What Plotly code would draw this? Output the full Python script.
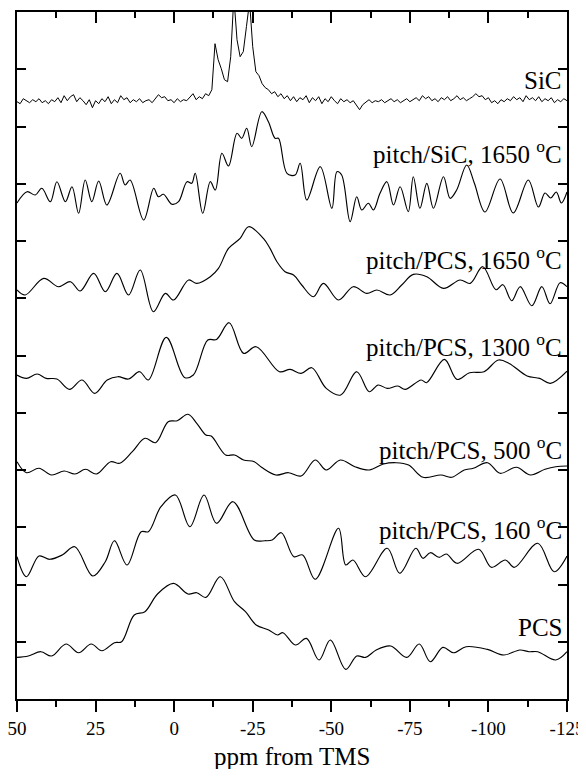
import plotly.graph_objects as go

# ---------------- axis / tick data ----------------
X_LEFT, X_RIGHT = 50, -125
Y_TOP = 687.0                      # arbitrary intensity units (stack height)
N_Y_INTERVALS = 12
x_tick_vals = [50, 25, 0, -25, -50, -75, -100, -125]
x_tick_text = ["50", "25", "0", "-25", "-50", "-75", "-100", "-125"]
x_title = "ppm from TMS"

# ---------------- spectra (ppm, intensity above own baseline) ----------------
sic_ppm = [50, 49, 48, 47, 46, 45, 44, 43, 42, 41,
           40, 39, 38, 37, 36, 35, 34, 33, 32, 31,
           30, 29, 28, 27, 26, 25, 24, 23, 22, 21,
           20, 19, 18, 17, 16, 15, 14, 13, 12, 11,
           10, 9, 8, 7, 6, 5, 4, 3, 2, 1,
           0, -1, -2, -3, -4, -5, -6, -7, -8, -9,
           -10, -11, -12, -13, -14, -15, -16, -17, -18, -19,
           -20, -21, -22, -23, -24, -25, -26, -27, -28, -29,
           -30, -31, -32, -33, -34, -35, -36, -37, -38, -39,
           -40, -41, -42, -43, -44, -45, -46, -47, -48, -49,
           -50, -51, -52, -53, -54, -55, -56, -57, -58, -59,
           -60, -61, -62, -63, -64, -65, -66, -67, -68, -69,
           -70, -71, -72, -73, -74, -75, -76, -77, -78, -79,
           -80, -81, -82, -83, -84, -85, -86, -87, -88, -89,
           -90, -91, -92, -93, -94, -95, -96, -97, -98, -99,
           -100, -101, -102, -103, -104, -105, -106, -107, -108, -109,
           -110, -111, -112, -113, -114, -115, -116, -117, -118, -119,
           -120, -121, -122, -123, -124, -125]
sic_int = [0, -2, 3, 1, -1, 2, 0, 3, -1, 1,
           -2, 2, 0, 4, -1, 6, 1, 5, 7, 0,
           4, 1, -3, 2, -6, 1, -2, 3, 0, 5,
           -2, 2, -1, 6, 2, 4, -1, 2, 0, 3,
           -1, 1, 2, -1, 3, 7, 4, 5, 1, 2,
           -1, 3, 0, 2, 1, 4, 8, 2, 5, 3,
           8, 6, 12, 58, 42, 33, 22, 20, 45, 105,
           62, 45, 50, 75, 100, 55, 30, 26, 18, 14,
           12, 8, 10, 5, 8, 3, 6, 1, 5, 0,
           4, 2, 6, -1, 4, 1, 5, -2, 3, 0,
           5, 1, -2, 3, 0, 2, -1, 1, -4, -8,
           -3, 0, 2, -1, 1, 0, 2, -1, 1, 3,
           0, 2, -1, 1, 3, 0, 2, 4, 1, 6,
           3, 5, 1, 3, 0, 4, 2, 5, 1, 3,
           6, 2, 4, 1, 3, 5, 8, 5, 6, 2,
           4, -1, 1, -2, 2, 0, 3, 1, 5, 2,
           4, 0, 6, 2, 4, 1, 5, 0, 3, 1,
           4, -1, 2, 0, 3, 1]

psic_ppm = [50, 46.8, 44.2, 42.1, 39.4, 37.3, 34.6, 32.5, 30.4, 28.3, 26.2, 24.0, 21.4,
            17.2, 15.6, 14.0, 9.7, 6.5, 5.0, 3.4, 0.7, -1.4, -4.1, -5.6, -6.7, -9.1,
            -11.5, -13.1, -15.2, -17.3, -20.0, -21.5, -23.1, -24.7, -27.9, -30.0, -32.1,
            -33.2, -35.9, -38.5, -40.1, -42.2, -46.5, -50.2, -51.8, -53.3, -56.0, -58.1,
            -59.7, -61.8, -63.4, -65.5, -67.7, -69.8, -71.9, -74.5, -76.1, -78.2, -80.4,
            -82.5, -85.7, -87.8, -89.9, -93.1, -95.5, -98.9, -103.7, -107.9, -112.7,
            -115.9, -118.0, -119.8, -121.6, -123.2, -125]
psic_int = [-8, 3.3, 0, 6.7, -6.7, 13.3, -6.7, 8.3, -18.3, 15, -6.7, 14, -10,
            21.7, 10, 15, -25, 6.7, -1.7, 0.7, -9.3, -6.7, 13.3, 11.7, 21.7, -18.3,
            13.3, 5, 41.7, 29, 61.7, 56.7, 66.7, 48.3, 83.3, 73.3, 56.7,
            56.7, 21.7, 20, 31.7, -5, 28.3, -13.3, 23.3, 20, -26.7, -1.7,
            -15, -8.3, -15, 1.7, 13.3, -10, 8.3, -16.7, 18.3, -13.3, 11.7,
            -13.3, 18.3, -3.3, 5, 30, 12, -17, 16, -18, 15,
            -12, 2, -3, 3, -8, 3]

p1650_ppm = [50, 47.4, 41.5, 36.8, 33.0, 29.9, 25.6, 21.9, 18.2, 14.5, 10.8, 6.6, 2.8,
             0.2, -4.6, -7.2, -11.5, -14.1, -17.3, -21.0, -23.7, -28.4, -30.5, -32.7,
             -35.3, -38.0, -40.6, -44.3, -47.5, -52.3, -57.0, -61.3, -64.5, -68.7,
             -72.4, -76.1, -80.4, -85.7, -91.0, -94.2, -98.2, -102.4, -104.6, -107.4,
             -110.1, -113.8, -117.0, -119.6, -122.8, -125]
p1650_int = [-3.3, -8.3, 8.3, 0, 5, -4.3, 13.3, -5, 13.3, -8.3, 16.7, -25, -6.7,
             -13.3, 6.7, 3.3, 10, 18.3, 38.3, 48.3, 60, 48.3, 38.3, 25,
             15, 11.7, 1.7, -10, 3.3, -13.3, 0, -6.7, -3.3, -8.3,
             1.7, 12.3, 10, -1.7, 6.7, 3.3, 20, -3, 2, -14,
             0, -19, 0, -17, 4, 0]

p1300_ppm = [50, 47.0, 43.6, 40.7, 37.3, 33.3, 29.3, 25.3, 21.3, 17.9, 14.5, 11.0, 8.2,
             2.5, -3.3, -6.1, -10.7, -13.5, -17.5, -22.1, -26.1, -33.5, -36.9, -40.4,
             -43.8, -48.4, -53.0, -58.1, -62.1, -64.9, -67.8, -71.2, -73.5, -78.6,
             -80.3, -86.0, -90.0, -94.0, -98.6, -103.2, -106.6, -112.3, -116.3,
             -119.7, -125]
p1300_int = [1.7, -1.7, 2.7, -1.7, -2.3, -12.7, -3.3, -16.7, -3.3, 0, -2.3, 5, -3.3,
             39.3, -0.7, 1.7, 36.7, 37.3, 54, 23.3, 30, 5, 7.3, 3.3,
             9, -11.7, -18.3, 5, -15, -8.3, -11.7, -9.3, -12.7, -3.3,
             -6, 17.3, -2.7, 4, 5, 16.7, 13.3, 0.7, -1.7,
             -6.7, 5.5]

p500_ppm = [50, 47.0, 43.0, 39.0, 35.0, 31.6, 28.2, 24.7, 20.2, 17.3, 13.3, 9.3, 5.9,
            1.9, -1.0, -4.4, -7.2, -10.1, -11.8, -16.4, -19.2, -22.1, -25.5, -27.8,
            -32.4, -36.4, -40.4, -44.9, -48.4, -52.9, -57.5, -62.1, -66.6, -70.6,
            -74.6, -79.2, -84.9, -88.3, -92.3, -95.2, -99.7, -103.7, -108.9, -113.4,
            -118.0, -121.4, -125]
p500_int = [8.3, -2.7, 1.7, -5, -1, -4, 0.7, -4, 8.3, 6.7, 18.3, 31.7, 27.3,
            48.3, 49.3, 55.7, 46.7, 35, 34, 15, 15, 10, 8.3, 2.7,
            -5, -2.7, -6, 10, 0, 10, 3.3, 0, 6, 7.3,
            5, -7.3, -5, -7.3, 0, 1.7, 7.3, -3.3, 2.7, -5,
            0.7, 3.3, 4]

p160_ppm = [50, 47.0, 43.0, 39.6, 35.6, 31.6, 25.9, 21.9, 19.0, 15.0, 10.5, 8.2, 4.2,
            -0.4, -5.0, -9.5, -13.5, -18.7, -25.5, -28.9, -31.2, -34.1, -38.1, -40.9,
            -44.9, -52.3, -54.6, -56.9, -60.9, -67.8, -71.8, -76.9, -79.2, -81.5,
            -84.3, -86.6, -90.0, -96.9, -100.9, -105.4, -108.3, -115.7, -120.9, -125]
p160_int = [3.3, -16.7, 4, 0.7, 5, 13.3, -16, -1.7, 19.3, -5, 28.3, 28.3, 53.3,
            65, 33.3, 65, 36.7, 58.3, 20, 19.3, 20, 27.3, 3.3, 5,
            -19.3, 31.7, -5, 0, -16.7, 11.7, -13.3, 11.7, 1.7, 7.3,
            2.7, 6, -3.3, 10.7, -7.3, 0, -7.3, 16.7, -11.7, 4]

pcs_ppm = [50, 46.4, 42.4, 39.0, 34.4, 30.4, 26.4, 23.0, 19.0, 16.7, 12.7, 9.3, 5.3,
           0.2, -4.4, -7.2, -10.1, -14.7, -19.2, -22.7, -26.1, -30.1, -32.9, -34.6,
           -38.6, -42.1, -46.1, -49.7, -54.6, -58.1, -60.9, -64.3, -68.9, -74.0,
           -78.0, -81.5, -85.5, -88.9, -92.9, -99.7, -104.9, -110.0, -112.9, -115.7,
           -121.4, -125]
pcs_int = [-5.7, -4.3, 0, -4.3, 7.7, -1, 7.7, 1, 9, 10, 36.7, 40, 57.7,
           68.3, 57.7, 59, 54.3, 75, 50, 40, 26.7, 21.7, 16.7, 19,
           6.7, 13.3, -8.3, 11.7, -17.7, -4.3, -5.7, 1.7, 5.7, -5.7,
           7.7, -10, 4.3, -1, 5, 2.3, -3.3, 1.7, 0, 0,
           -8.3, 0]

series_names = ["SiC", "pitch/SiC, 1650 <sup>o</sup>C", "pitch/PCS, 1650 <sup>o</sup>C",
                "pitch/PCS, 1300 <sup>o</sup>C", "pitch/PCS, 500 <sup>o</sup>C",
                "pitch/PCS, 160 <sup>o</sup>C", "PCS"]
series_ppm = [sic_ppm, psic_ppm, p1650_ppm, p1300_ppm, p500_ppm, p160_ppm, pcs_ppm]
series_int = [sic_int, psic_int, p1650_int, p1300_int, p500_int, p160_int, pcs_int]
series_offset = [597.3, 504.0, 412.3, 322.3, 229.0, 139.0, 47.3]
label_level = [619, 547, 441, 354, 251, 171, 72]

# ---------------- figure ----------------
FONT = "Liberation Serif"
fig = go.Figure()

for i, (ppm, vals, off) in enumerate(zip(series_ppm, series_int, series_offset)):
    shape = "linear" if i == 0 else "spline"
    fig.add_trace(go.Scatter(
        x=ppm, y=[v + off for v in vals], mode="lines",
        line=dict(color="black", width=1.0 if i == 0 else 1.15, shape=shape, smoothing=1.0),
        hoverinfo="skip", showlegend=False))

# empty trace anchoring the mirrored (top / right) axes
fig.add_trace(go.Scatter(x=[None], y=[None], xaxis="x2", yaxis="y2", showlegend=False))

y_ticks = [Y_TOP * k / N_Y_INTERVALS for k in range(1, N_Y_INTERVALS)]

common_x = dict(range=[X_LEFT, X_RIGHT], showgrid=False, zeroline=False, automargin=False,
                showline=True, linecolor="black", linewidth=2,
                tickcolor="black", tickwidth=1.5, ticklen=11,
                tickmode="array", tickvals=x_tick_vals)
common_y = dict(range=[0, Y_TOP], showgrid=False, zeroline=False, automargin=False,
                showline=True, linecolor="black", linewidth=2,
                tickmode="array", tickvals=y_ticks, showticklabels=False,
                ticks="inside", ticklen=9, tickwidth=1.5, tickcolor="black")

fig.update_layout(
    width=578, height=761, autosize=False,
    margin=dict(l=9, r=19, t=4, b=70, pad=0),
    paper_bgcolor="white", plot_bgcolor="white",
    font=dict(family=FONT, color="black"),
    xaxis=dict(**common_x, ticks="outside", ticktext=x_tick_text,
               ticklabeloverflow="allow",
               tickfont=dict(family=FONT, size=19, color="black"),
               minor=dict(tickmode="linear", tick0=50, dtick=12.5, ticklen=6,
                          ticks="outside", tickwidth=1.5, tickcolor="black",
                          showgrid=False)),
    xaxis2=dict(**common_x, ticks="inside", overlaying="x", side="top",
                showticklabels=False, anchor="y",
                minor=dict(tickmode="linear", tick0=50, dtick=12.5, ticklen=6,
                           ticks="inside", tickwidth=1.5, tickcolor="black",
                           showgrid=False)),
    yaxis=dict(**common_y, side="left"),
    yaxis2=dict(**common_y, overlaying="y", side="right", anchor="x"),
)

annotations = []
for name, lv in zip(series_names, label_level):
    annotations.append(dict(x=1, xref="paper", y=lv, yref="y", text=name,
                            xanchor="right", yanchor="middle", xshift=-3,
                            showarrow=False,
                            font=dict(family=FONT, size=25, color="black")))
annotations.append(dict(x=0.5, xref="paper", y=-0.0844, yref="paper", text=x_title,
                        xanchor="center", yanchor="middle", showarrow=False,
                        font=dict(family=FONT, size=25, color="black")))
fig.update_layout(annotations=annotations)

fig.write_html("out.html")
